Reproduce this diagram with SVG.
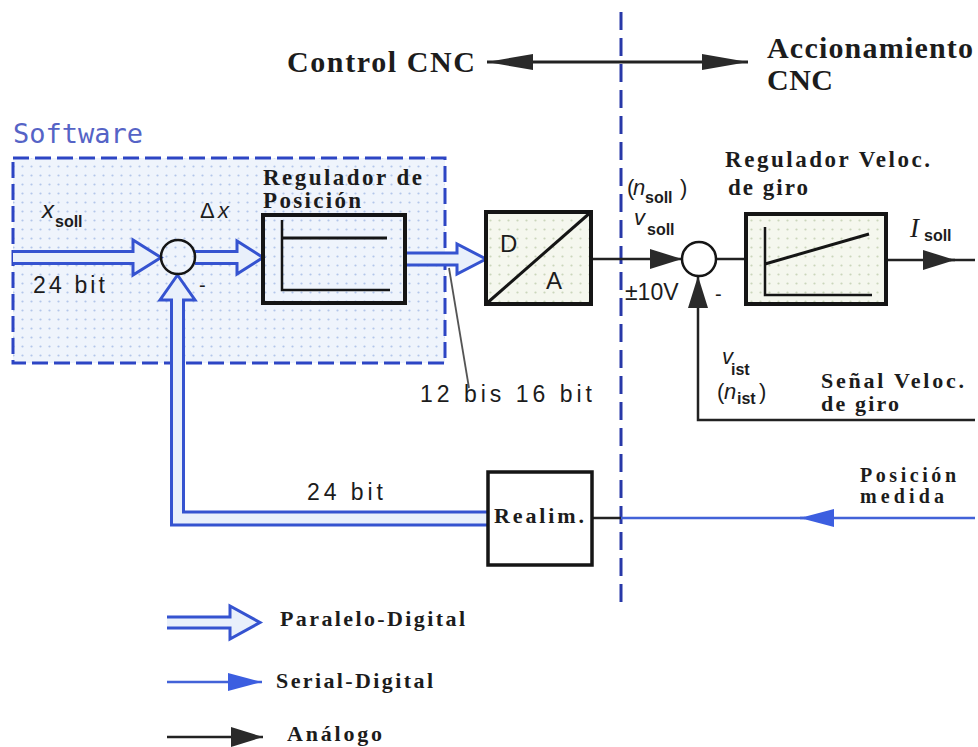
<svg xmlns="http://www.w3.org/2000/svg" width="978" height="747" viewBox="0 0 978 747">
<style>
.lb{font-family:"Liberation Serif","Times New Roman",serif;font-weight:bold;fill:#1c1c1c}
.sn{font-family:"Liberation Sans",Arial,sans-serif;fill:#1c1c1c}
.sub{font-family:"Liberation Sans",Arial,sans-serif;font-weight:bold;font-size:16px;fill:#1c1c1c}
.it{font-family:"Liberation Sans",Arial,sans-serif;font-style:italic;fill:#1c1c1c}
.par{fill:#e9f0fb;stroke:#3553d0;stroke-width:3;stroke-linejoin:miter}
.blk{fill:none;stroke:#222;stroke-width:2.5}
.box{stroke:#151515;stroke-width:4}
.ser{fill:none;stroke:#4262d8;stroke-width:2.5}
</style>
<defs>
<pattern id="dotsB" width="9" height="9" patternUnits="userSpaceOnUse">
<rect width="9" height="9" fill="#eff4fc"/>
<circle cx="4.5" cy="4.5" r="1.1" fill="#b3c6ea"/>
</pattern>
<pattern id="dotsG" width="9" height="9" patternUnits="userSpaceOnUse">
<rect width="9" height="9" fill="#f5f7ee"/>
<circle cx="4.5" cy="4.5" r="1.1" fill="#cbd6bb"/>
</pattern>
<marker id="ah" markerUnits="userSpaceOnUse" markerWidth="32" markerHeight="20" refX="32" refY="10" orient="auto">
<path d="M0,0 L32,10 L0,20 Z" fill="#2a2a2a"/>
</marker>
<marker id="ahl" markerUnits="userSpaceOnUse" markerWidth="46" markerHeight="16" refX="46" refY="8" orient="auto-start-reverse">
<path d="M0,0 L46,8 L0,16 Z" fill="#2a2a2a"/>
</marker>
<marker id="bh" markerUnits="userSpaceOnUse" markerWidth="34" markerHeight="18" refX="34" refY="9" orient="auto">
<path d="M0,0 L34,9 L0,18 Z" fill="#3c5ee0"/>
</marker>
</defs>

<rect width="978" height="747" fill="#ffffff"/>

<g id="software">
<rect x="13" y="158" width="432" height="205" fill="url(#dotsB)" stroke="#2d45c4" stroke-width="3" stroke-dasharray="16 6"/>
<text x="13" y="143" font-family="DejaVu Sans Mono, monospace" font-size="27" fill="#5563c6">Software</text>
</g>

<g id="header">
<text class="lb" x="287" y="72" font-size="30" textLength="188">Control CNC</text>
<text class="lb" x="767" y="58" font-size="30" textLength="206">Accionamiento</text>
<text class="lb" x="767" y="90" font-size="30" textLength="66">CNC</text>
<line x1="487" y1="62" x2="748" y2="62" stroke="#222" stroke-width="3" marker-start="url(#ahl)" marker-end="url(#ahl)"/>
</g>

<g id="divider">
<line x1="621" y1="12" x2="621" y2="606" stroke="#2838a8" stroke-width="3" stroke-dasharray="18 8"/>
</g>

<g id="connectors">
<path class="par" d="M13,251.5 H133 V240 L161,257.5 L133,275 V263.5 H13"/>
<path class="par" d="M195,251.5 H237 V241 L263,257.5 L237,274 V263.5 H195"/>
<path class="par" d="M405,253 H457 V244 L486,259 L457,274 V265 H405"/>
<path class="par" d="M488,525 H171.5 V300 H160 L177.5,275 L195,300 H183.5 V512 H488"/>
<line x1="449" y1="268" x2="469" y2="388" stroke="#555" stroke-width="1.8"/>
<line class="blk" x1="591" y1="259" x2="682" y2="259" marker-end="url(#ah)"/>
<line class="blk" x1="716" y1="259" x2="746" y2="259"/>
<line class="blk" x1="886" y1="260" x2="955" y2="260" marker-end="url(#ah)"/>
<line class="blk" x1="950" y1="260" x2="975" y2="260"/>
<path class="blk" d="M975,420 H698 V276" marker-end="url(#ah)"/>
<line class="blk" x1="592" y1="518" x2="621" y2="518"/>
<line class="ser" x1="975" y1="518" x2="800" y2="518" marker-end="url(#bh)"/>
<line class="ser" x1="805" y1="518" x2="621" y2="518"/>
</g>

<g id="sum1">
<circle cx="178" cy="257" r="17" fill="none" stroke="#151515" stroke-width="2.5"/>
<text class="sn" x="199" y="292" font-size="20">-</text>
</g>

<g id="pos-reg">
<rect class="box" x="263" y="215" width="142" height="88" fill="none"/>
<path d="M282,220 V290 H390" fill="none" stroke="#151515" stroke-width="2.5"/>
<line x1="282" y1="238" x2="387" y2="238" stroke="#151515" stroke-width="3"/>
<text class="lb" x="263" y="185" font-size="23" textLength="159">Regulador de</text>
<text class="lb" x="263" y="208" font-size="23" textLength="98">Posición</text>
</g>

<g id="dac">
<rect class="box" x="486" y="212" width="105" height="92" fill="url(#dotsG)"/>
<line x1="486" y1="304" x2="591" y2="212" stroke="#151515" stroke-width="3"/>
<text class="sn" x="500" y="252" font-size="24">D</text>
<text class="sn" x="546" y="289" font-size="24">A</text>
</g>

<g id="sum2">
<circle cx="699" cy="259" r="17" fill="#ffffff" stroke="#151515" stroke-width="2.5"/>
<text class="sn" x="715" y="301" font-size="20">-</text>
</g>

<g id="vel-reg">
<rect class="box" x="746" y="214" width="140" height="90" fill="url(#dotsG)"/>
<path d="M765,227 V295 H872" fill="none" stroke="#151515" stroke-width="2.5"/>
<line x1="765" y1="264" x2="869" y2="234" stroke="#151515" stroke-width="3"/>
<text class="lb" x="725" y="167" font-size="23" textLength="205">Regulador Veloc.</text>
<text class="lb" x="728" y="195" font-size="23" textLength="80">de giro</text>
</g>

<g id="realim">
<rect x="488" y="472" width="104" height="93" fill="#ffffff" stroke="#151515" stroke-width="3.5"/>
<text class="lb" x="494" y="523" font-size="22" textLength="90">Realim.</text>
</g>

<g id="labels">
<text class="it" x="42" y="218" font-size="24">x</text>
<text class="sub" x="55" y="227">soll</text>
<text class="sn" x="33" y="293" font-size="23" textLength="72">24 bit</text>
<text class="sn" x="200" y="218" font-size="22">Δ</text>
<text class="it" x="218" y="218" font-size="22">x</text>
<text class="sn" x="420" y="402" font-size="23" textLength="172">12 bis 16 bit</text>
<text class="sn" x="307" y="500" font-size="23" textLength="76">24 bit</text>
<text class="sn" x="627" y="195" font-size="22">(</text>
<text class="it" x="633" y="195" font-size="22">n</text>
<text class="sub" x="645" y="203">soll</text>
<text class="sn" x="680" y="195" font-size="22">)</text>
<text class="it" x="634" y="225" font-size="22">v</text>
<text class="sub" x="647" y="235">soll</text>
<text class="sn" x="625" y="300" font-size="23">±10V</text>
<text class="it" x="722" y="364" font-size="22">v</text>
<text class="sub" x="731" y="375">ist</text>
<text class="sn" x="717" y="399" font-size="22">(</text>
<text class="it" x="724" y="399" font-size="22">n</text>
<text class="sub" x="737" y="404">ist</text>
<text class="sn" x="759" y="399" font-size="22">)</text>
<text x="910" y="237" font-family="Liberation Serif, serif" font-style="italic" font-size="27" fill="#1c1c1c">I</text>
<text class="sub" x="924" y="241">soll</text>
<text class="lb" x="821" y="388" font-size="22" textLength="143">Señal Veloc.</text>
<text class="lb" x="821" y="411" font-size="22" textLength="78">de giro</text>
<text class="lb" x="860" y="482" font-size="20" textLength="96">Posición</text>
<text class="lb" x="860" y="503" font-size="20" textLength="84">medida</text>
</g>

<g id="legend">
<path class="par" d="M167,617 H230 V606 L260,622.5 L230,639 V628 H167"/>
<text class="lb" x="280" y="626" font-size="22" textLength="185">Paralelo-Digital</text>
<line class="ser" x1="167" y1="682" x2="262" y2="682" marker-end="url(#bh)"/>
<text class="lb" x="276" y="688" font-size="22" textLength="157">Serial-Digital</text>
<line class="blk" x1="167" y1="737" x2="263" y2="737" marker-end="url(#ah)"/>
<text class="lb" x="287" y="741" font-size="22" textLength="95">Análogo</text>
</g>
</svg>
